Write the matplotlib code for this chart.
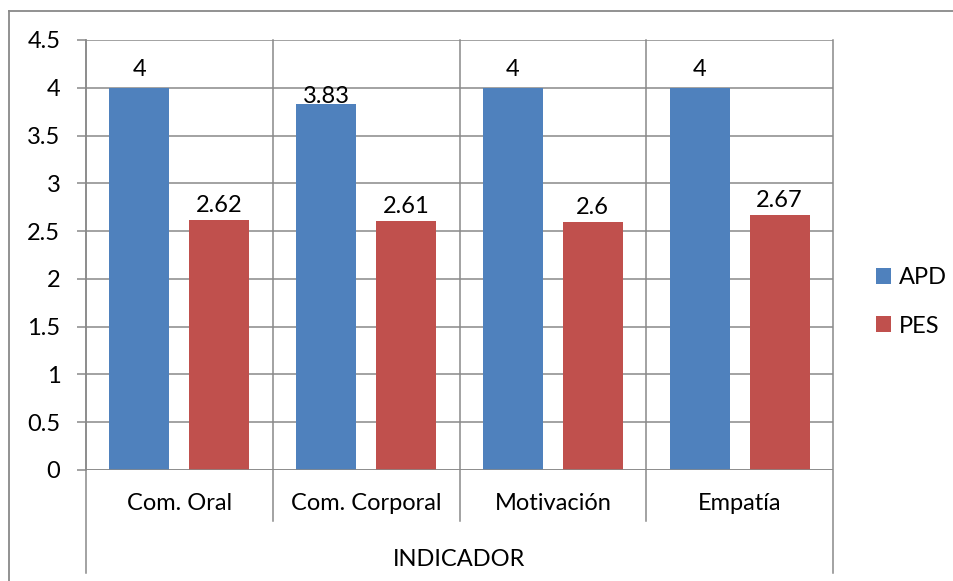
import matplotlib
matplotlib.use("Agg")
import matplotlib.pyplot as plt
from matplotlib.lines import Line2D
from matplotlib.patches import Patch
import numpy as np

categories = ["Com. Oral", "Com. Corporal", "Motivación", "Empatía"]
apd = [4, 3.83, 4, 4]
pes = [2.62, 2.61, 2.6, 2.67]
series_names = ["APD", "PES"]
y_ticks = [0, 0.5, 1, 1.5, 2, 2.5, 3, 3.5, 4, 4.5]
x_title = "INDICADOR"

BLUE = "#4F81BD"
RED = "#C0504D"
GRID = "#898989"
FONT = "Lato"
FS = 17

W, H = 954, 581
fig = plt.figure(figsize=(W / 100, H / 100), dpi=100)
plt.rcParams["font.family"] = [FONT, "DejaVu Sans"]

# plot area in pixels: left 86, right 833, top 40, bottom 470
L, R, T, B = 86, 833, 40, 470
ax = fig.add_axes([L / W, 1 - B / H, (R - L) / W, (B - T) / H])

x = np.arange(len(categories))
cat_w = 187.0
bw = 60 / cat_w
off = 40 / cat_w
b1 = ax.bar(x - off, apd, width=bw, color=BLUE, zorder=3)
b2 = ax.bar(x + off, pes, width=bw, color=RED, zorder=3)

ax.set_xlim(-0.5, len(categories) - 0.5)
ax.set_ylim(0, 4.5)
ax.set_yticks(y_ticks)
ax.set_yticklabels([f"{v:g}" for v in y_ticks], fontsize=FS, family=FONT)
ax.tick_params(axis="y", length=6.5, width=1.1, color=GRID, pad=12)
ax.set_xticks([])
for s in ["top", "right", "bottom"]:
    ax.spines[s].set_visible(False)
ax.spines["left"].set_color(GRID)
ax.spines["left"].set_linewidth(1.1)
ax.yaxis.grid(True, color=GRID, linewidth=1.1, zorder=0)
ax.set_axisbelow(True)
ax.axhline(0, color=GRID, linewidth=1.1, zorder=4)

# category separators
trans = ax.get_xaxis_transform()
px = 1 / (B - T)
n = len(categories)
for i, xb in enumerate(np.arange(-0.5, n, 1.0)):
    bottom = -(573 - B) * px if (i == 0 or i == n) else -(521 - B) * px
    ax.add_line(Line2D([xb, xb], [bottom, 1], transform=trans, color=GRID,
                       linewidth=1.1, clip_on=False, zorder=4))

# category labels and axis title
for xi, c in zip(x, categories):
    ax.text(xi, -(504 - B) * px, c, transform=trans, ha="center", va="center",
            fontsize=FS, family=FONT)
ax.text(0.5 * (n - 1), -(559 - B) * px, x_title, transform=trans, ha="center",
        va="center", fontsize=FS, family=FONT)

# data labels
apd_off = [8, -3, 8, 8]
pes_off = [4, 4, 4, 4]
for bars, vals, offs in ((b1, apd, apd_off), (b2, pes, pes_off)):
    for rect, v, o in zip(bars, vals, offs):
        ax.annotate(f"{v:g}", (rect.get_x() + rect.get_width() / 2, v),
                    xytext=(0, o * 0.72), textcoords="offset points",
                    ha="center", va="bottom", fontsize=FS, family=FONT, zorder=5)

# legend
handles = [Patch(facecolor=BLUE), Patch(facecolor=RED)]
fig.legend(handles, series_names, loc="center left",
           bbox_to_anchor=(876 / W, 1 - 302 / H), frameon=False,
           prop={"family": FONT, "size": FS},
           borderpad=0, borderaxespad=0,
           handlelength=0.65, handleheight=0.65, handletextpad=0.3,
           labelspacing=1.15)

# outer chart frame
fig.add_artist(Line2D([9.5 / W, 1.0], [1 - 10.5 / H, 1 - 10.5 / H],
                      transform=fig.transFigure, color=GRID, linewidth=1.3))
fig.add_artist(Line2D([9.5 / W, 9.5 / W], [0, 1 - 10.5 / H],
                      transform=fig.transFigure, color=GRID, linewidth=1.3))

fig.savefig("out.png", dpi=100)
